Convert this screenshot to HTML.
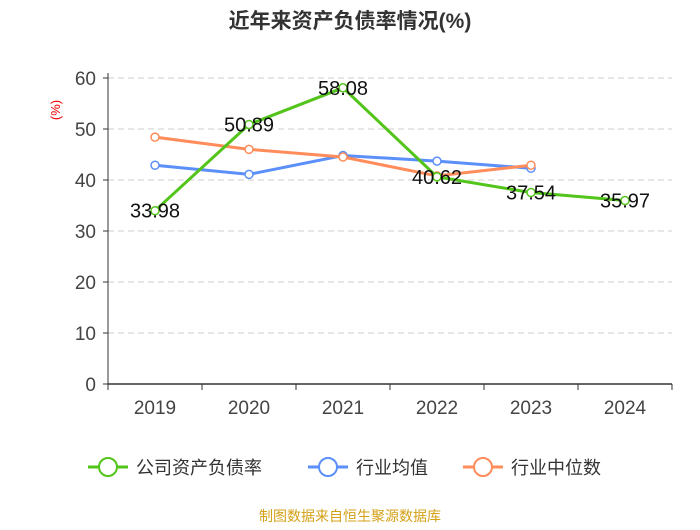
<!DOCTYPE html>
<html><head><meta charset="utf-8"><style>
body{margin:0;background:#fff;font-family:"Liberation Sans","Noto Sans CJK SC",sans-serif;}
</style></head><body>
<svg width="700" height="525" xmlns="http://www.w3.org/2000/svg" id="chart">
<text x="350" y="28" text-anchor="middle" font-size="21" font-weight="bold" fill="#333" font-family="Liberation Sans, Noto Sans CJK SC, sans-serif">近年来资产负债率情况(%)</text>
<text x="60" y="110" text-anchor="middle" font-size="13" fill="#e00" transform="rotate(-90 60 110)">(%)</text>
<g id="grid"></g><g id="axes"></g><g id="series"></g>
<g font-size="18" fill="#333" font-family="Liberation Sans, Noto Sans CJK SC, sans-serif">
<g><line x1="88" y1="467" x2="128" y2="467" stroke="#52c41a" stroke-width="3"/><circle cx="108" cy="467" r="9" fill="#fff" stroke="#52c41a" stroke-width="2"/><text x="136" y="474">公司资产负债率</text></g>
<g><line x1="308" y1="467" x2="348" y2="467" stroke="#5b8ff9" stroke-width="3"/><circle cx="328" cy="467" r="9" fill="#fff" stroke="#5b8ff9" stroke-width="2"/><text x="356" y="474">行业均值</text></g>
<g><line x1="463" y1="467" x2="503" y2="467" stroke="#ff8c5a" stroke-width="3"/><circle cx="483" cy="467" r="9" fill="#fff" stroke="#ff8c5a" stroke-width="2"/><text x="511" y="474">行业中位数</text></g>
</g>
<text x="350" y="521" text-anchor="middle" font-size="14" fill="#d4a017">制图数据来自恒生聚源数据库</text>
</svg>
<script>
const categories=["2019","2020","2021","2022","2023","2024"];
const company=[33.98,50.89,58.08,40.62,37.54,35.97];
const industryAvg=[42.9,41.1,44.8,43.7,42.3,null];
const industryMedian=[48.4,46.0,44.5,40.8,42.9,null];
const yTicks=[0,10,20,30,40,50,60];
const NS="http://www.w3.org/2000/svg";
const L=108,R=672,T=78,B=384,yMax=60;
const band=(R-L)/categories.length;
const xs=i=>L+band*(i+0.5);
const ys=v=>B-(v/yMax)*(B-T);
function mk(tag,attrs,parent){const e=document.createElementNS(NS,tag);for(const k in attrs)e.setAttribute(k,attrs[k]);parent.appendChild(e);return e;}
const grid=document.getElementById('grid'),axes=document.getElementById('axes'),ser=document.getElementById('series');
yTicks.forEach(t=>{
 if(t>0){const g=mk('line',{x1:L,x2:R,y1:ys(t),y2:ys(t),stroke:'#ccc','stroke-dasharray':'6,4'},grid);
 
 }
 const tk=mk('line',{x1:L-5,x2:L,y1:ys(t),y2:ys(t),stroke:'#333'},axes);
 
 
 const tx=mk('text',{x:L-12,y:ys(t)+7,'text-anchor':'end','font-size':19,fill:'#444'},axes);tx.textContent=t;
 
 
});
const ya=mk('line',{x1:L,x2:L,y1:T-5,y2:B,stroke:'#333'},axes);


const xa=mk('line',{x1:L,x2:R,y1:B,y2:B,stroke:'#333','stroke-width':1.5},axes);


for(let i=0;i<=categories.length;i++){const t=mk('line',{x1:L+band*i,x2:L+band*i,y1:B,y2:B+6,stroke:'#333'},axes);
 
 }
categories.forEach((c,i)=>{const t=mk('text',{x:xs(i),y:B+30,'text-anchor':'middle','font-size':19,fill:'#444'},axes);t.textContent=c;
 
 });
function draw(data,color,name,labels){
 const pts=data.map((v,i)=>v==null?null:[xs(i),ys(v)]).filter(p=>p);
 const pl=mk('polyline',{points:pts.map(p=>p.join(',')).join(' '),fill:'none',stroke:color,'stroke-width':3},ser);
 
 
 data.forEach((v,i)=>{if(v==null)return;
  const c=mk('circle',{cx:xs(i),cy:ys(v),r:4,fill:'#fff',stroke:color,'stroke-width':1.5},ser);
  
  
  if(labels){const t=mk('text',{x:xs(i),y:ys(v)+7,'text-anchor':'middle','font-size':20,fill:'#111'},ser);t.textContent=v.toFixed(2);
  
  }
 });
}
draw(industryAvg,'#5b8ff9','industry-avg',false);
draw(industryMedian,'#ff8c5a','industry-median',false);
draw(company,'#52c41a','company',true);
</script>
</body></html>
